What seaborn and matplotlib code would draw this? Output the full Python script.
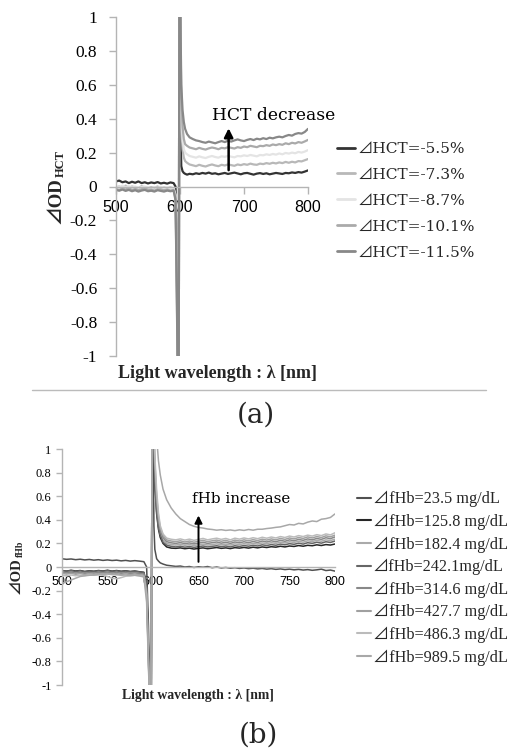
import matplotlib
matplotlib.use("Agg")
import matplotlib.pyplot as plt
from matplotlib.lines import Line2D
import pandas as pd
import seaborn as sns

# ---------------- data ----------------
WL = [500, 505, 510, 515, 520, 525, 530, 535, 540, 545, 550, 555, 560, 565, 570, 575, 580, 585, 590,
      593, 595, 597, 598, 599, 600, 601, 602, 604, 606, 608, 611, 615,
      620, 625, 630, 635, 640, 645, 650, 655, 660, 665, 670, 675, 680, 685, 690, 695, 700,
      705, 710, 715, 720, 725, 730, 735, 740, 745, 750, 755, 760, 765, 770, 775, 780, 785, 790, 795, 800]

LABELS_A = ["⊿HCT=-5.5%", "⊿HCT=-7.3%", "⊿HCT=-8.7%", "⊿HCT=-10.1%", "⊿HCT=-11.5%"]
COLORS_A = ["#333333", "#b8b8b8", "#e4e4e4", "#aaaaaa", "#888888"]

HCT_55 = [0.03, 0.035, 0.025, 0.03, 0.02, 0.028, 0.022, 0.03, 0.02, 0.025, 0.018, 0.024, 0.02, 0.026, 0.018, 0.022, 0.017, 0.024, 0.02,
          0.0, -0.4, -1.3, -1.3, 1.3, 1.3, 0.3, 0.12, 0.09, 0.08, 0.075, 0.07, 0.075,
          0.072, 0.078, 0.074, 0.08, 0.076, 0.082, 0.075, 0.078, 0.072, 0.076, 0.08, 0.074, 0.078, 0.082, 0.077, 0.072, 0.078,
          0.08, 0.075, 0.07, 0.076, 0.079, 0.074, 0.078, 0.072, 0.076, 0.08, 0.077, 0.074, 0.08, 0.078, 0.083, 0.08, 0.085, 0.082, 0.088, 0.095]
HCT_73 = [-0.005, 0.0, -0.01, 0.005, -0.008, 0.0, -0.005, -0.01, 0.002, -0.006, -0.01, -0.004, -0.008, 0.0, -0.012, -0.006, -0.01, -0.005, -0.012,
          -0.05, -0.5, -1.3, -1.3, 1.3, 1.3, 0.6, 0.35, 0.22, 0.17, 0.15, 0.14, 0.13,
          0.125, 0.12, 0.128, 0.122, 0.118, 0.125, 0.13, 0.124, 0.12, 0.128, 0.124, 0.13, 0.126, 0.122, 0.13, 0.126, 0.132,
          0.128, 0.135, 0.13, 0.128, 0.135, 0.132, 0.138, 0.134, 0.14, 0.136, 0.142, 0.138, 0.145, 0.14, 0.146, 0.142, 0.15, 0.148, 0.155, 0.162]
HCT_87 = [0.0, -0.005, 0.005, -0.004, 0.002, -0.006, 0.0, -0.008, -0.003, 0.0, -0.006, -0.01, -0.004, -0.008, -0.002, -0.01, -0.006, -0.01, -0.008,
          -0.05, -0.55, -1.3, -1.3, 1.3, 1.3, 0.7, 0.45, 0.28, 0.22, 0.2, 0.19, 0.18,
          0.175, 0.17, 0.178, 0.172, 0.168, 0.175, 0.18, 0.174, 0.17, 0.178, 0.175, 0.18, 0.176, 0.172, 0.18, 0.178, 0.184,
          0.18, 0.186, 0.182, 0.178, 0.186, 0.184, 0.19, 0.186, 0.192, 0.188, 0.195, 0.19, 0.198, 0.194, 0.2, 0.196, 0.204, 0.2, 0.206, 0.215]
HCT_101 = [-0.015, -0.02, -0.012, -0.018, -0.01, -0.02, -0.015, -0.022, -0.016, -0.012, -0.02, -0.018, -0.024, -0.016, -0.02, -0.022, -0.018, -0.024, -0.02,
           -0.07, -0.6, -1.3, -1.3, 1.3, 1.3, 0.8, 0.55, 0.35, 0.28, 0.25, 0.24, 0.23,
           0.225, 0.22, 0.228, 0.222, 0.218, 0.225, 0.23, 0.226, 0.22, 0.228, 0.225, 0.232, 0.228, 0.224, 0.232, 0.228, 0.236,
           0.232, 0.24, 0.236, 0.232, 0.24, 0.238, 0.244, 0.24, 0.248, 0.244, 0.25, 0.246, 0.255, 0.25, 0.258, 0.254, 0.262, 0.258, 0.266, 0.275]
HCT_115 = [-0.02, -0.025, -0.018, -0.026, -0.02, -0.028, -0.022, -0.03, -0.024, -0.02, -0.028, -0.025, -0.03, -0.022, -0.026, -0.03, -0.024, -0.028, -0.025,
           -0.08, -0.65, -1.3, -1.3, 1.3, 1.3, 0.9, 0.6, 0.45, 0.38, 0.34, 0.31, 0.29,
           0.28, 0.272, 0.268, 0.262, 0.258, 0.265, 0.26, 0.255, 0.262, 0.268, 0.262, 0.27, 0.265, 0.272, 0.278, 0.272, 0.268,
           0.275, 0.28, 0.274, 0.282, 0.278, 0.285, 0.28, 0.288, 0.284, 0.29, 0.294, 0.29, 0.298, 0.304, 0.3, 0.31, 0.315, 0.312, 0.322, 0.34]
SERIES_A = [HCT_55, HCT_73, HCT_87, HCT_101, HCT_115]

LABELS_B = ["⊿fHb=23.5 mg/dL", "⊿fHb=125.8 mg/dL", "⊿fHb=182.4 mg/dL", "⊿fHb=242.1mg/dL",
            "⊿fHb=314.6 mg/dL", "⊿fHb=427.7 mg/dL", "⊿fHb=486.3 mg/dL", "⊿fHb=989.5 mg/dL"]
COLORS_B = ["#505050", "#262626", "#aaaaaa", "#666666", "#888888", "#a0a0a0", "#bbbbbb", "#a8a8a8"]

FHB_235 = [0.07, 0.065, 0.068, 0.062, 0.066, 0.06, 0.064, 0.058, 0.062, 0.056, 0.06, 0.055, 0.058, 0.052, 0.056, 0.05, 0.054, 0.05, 0.045,
           0.0, -0.5, -1.3, -1.3, 1.3, 1.3, 0.35, 0.15, 0.07, 0.05, 0.035, 0.025, 0.015,
           0.01, 0.005, 0.008, 0.0, 0.004, -0.004, 0.002, -0.002, 0.004, -0.006, 0.0, -0.008, -0.004, -0.01, -0.006, -0.012, -0.008,
           -0.014, -0.01, -0.016, -0.012, -0.018, -0.014, -0.02, -0.016, -0.022, -0.018, -0.024, -0.02, -0.026, -0.022, -0.028, -0.024, -0.018, -0.03, -0.026, -0.035]
FHB_1258 = [-0.03, -0.035, -0.028, -0.034, -0.03, -0.038, -0.032, -0.036, -0.03, -0.034, -0.028, -0.035, -0.03, -0.036, -0.032, -0.038, -0.034, -0.04, -0.045,
            -0.15, -0.7, -1.3, -1.3, 1.3, 1.3, 1.0, 0.7, 0.45, 0.32, 0.25, 0.2, 0.17,
            0.16, 0.158, 0.162, 0.155, 0.16, 0.152, 0.158, 0.162, 0.155, 0.16, 0.165, 0.158, 0.162, 0.156, 0.164, 0.16, 0.166,
            0.16, 0.168, 0.162, 0.17, 0.165, 0.172, 0.168, 0.176, 0.17, 0.178, 0.174, 0.182, 0.176, 0.184, 0.18, 0.188, 0.182, 0.19, 0.186, 0.195]
FHB_1824 = [-0.04, -0.045, -0.038, -0.044, -0.04, -0.048, -0.042, -0.046, -0.04, -0.044, -0.038, -0.045, -0.04, -0.046, -0.042, -0.048, -0.044, -0.05, -0.055,
            -0.18, -0.75, -1.3, -1.3, 1.3, 1.3, 1.1, 0.8, 0.5, 0.36, 0.28, 0.23, 0.2,
            0.19, 0.186, 0.192, 0.184, 0.19, 0.182, 0.188, 0.194, 0.186, 0.19, 0.196, 0.188, 0.194, 0.186, 0.196, 0.19, 0.198,
            0.192, 0.2, 0.194, 0.204, 0.198, 0.206, 0.2, 0.21, 0.204, 0.214, 0.208, 0.218, 0.21, 0.222, 0.216, 0.226, 0.218, 0.23, 0.224, 0.236]
FHB_2421 = [-0.03, -0.036, -0.03, -0.038, -0.032, -0.04, -0.034, -0.038, -0.032, -0.036, -0.03, -0.038, -0.032, -0.04, -0.034, -0.04, -0.036, -0.042, -0.048,
            -0.16, -0.72, -1.3, -1.3, 1.3, 1.3, 1.05, 0.75, 0.47, 0.34, 0.27, 0.21, 0.185,
            0.175, 0.17, 0.176, 0.168, 0.174, 0.166, 0.172, 0.178, 0.17, 0.175, 0.18, 0.172, 0.178, 0.17, 0.18, 0.174, 0.182,
            0.176, 0.184, 0.178, 0.188, 0.182, 0.19, 0.184, 0.194, 0.188, 0.198, 0.192, 0.202, 0.194, 0.206, 0.2, 0.21, 0.202, 0.214, 0.208, 0.22]
FHB_3146 = [-0.045, -0.05, -0.044, -0.052, -0.046, -0.054, -0.048, -0.052, -0.046, -0.05, -0.044, -0.052, -0.046, -0.054, -0.048, -0.055, -0.05, -0.056, -0.06,
            -0.2, -0.78, -1.3, -1.3, 1.3, 1.3, 1.15, 0.85, 0.55, 0.4, 0.31, 0.25, 0.215,
            0.205, 0.2, 0.207, 0.198, 0.204, 0.196, 0.202, 0.21, 0.2, 0.206, 0.212, 0.202, 0.21, 0.2, 0.212, 0.205, 0.214,
            0.206, 0.216, 0.208, 0.22, 0.212, 0.222, 0.214, 0.226, 0.218, 0.23, 0.222, 0.234, 0.226, 0.238, 0.23, 0.242, 0.234, 0.248, 0.24, 0.255]
FHB_4277 = [-0.055, -0.06, -0.054, -0.062, -0.056, -0.064, -0.058, -0.062, -0.056, -0.06, -0.054, -0.062, -0.056, -0.064, -0.058, -0.065, -0.06, -0.066, -0.07,
            -0.22, -0.8, -1.3, -1.3, 1.3, 1.3, 1.2, 0.9, 0.6, 0.43, 0.33, 0.27, 0.23,
            0.22, 0.215, 0.222, 0.212, 0.22, 0.21, 0.218, 0.226, 0.215, 0.222, 0.228, 0.218, 0.226, 0.214, 0.228, 0.22, 0.23,
            0.222, 0.232, 0.224, 0.236, 0.228, 0.238, 0.23, 0.242, 0.234, 0.246, 0.238, 0.25, 0.242, 0.255, 0.246, 0.258, 0.25, 0.264, 0.256, 0.27]
FHB_4863 = [-0.07, -0.075, -0.068, -0.074, -0.07, -0.072, -0.066, -0.07, -0.064, -0.07, -0.08, -0.095, -0.1, -0.09, -0.078, -0.075, -0.07, -0.074, -0.08,
            -0.24, -0.82, -1.3, -1.3, 1.3, 1.3, 1.25, 0.95, 0.65, 0.46, 0.35, 0.28, 0.245,
            0.235, 0.23, 0.238, 0.228, 0.236, 0.226, 0.234, 0.242, 0.23, 0.238, 0.244, 0.234, 0.242, 0.23, 0.244, 0.236, 0.246,
            0.238, 0.248, 0.24, 0.252, 0.244, 0.254, 0.246, 0.258, 0.25, 0.262, 0.254, 0.266, 0.258, 0.27, 0.262, 0.274, 0.266, 0.28, 0.272, 0.29]
FHB_9895 = [-0.14, -0.125, -0.11, -0.095, -0.08, -0.075, -0.07, -0.068, -0.065, -0.062, -0.06, -0.064, -0.066, -0.07, -0.068, -0.072, -0.07, -0.075, -0.085,
            -0.3, -0.85, -1.3, -1.3, 1.3, 1.3, 1.3, 1.3, 1.1, 0.9, 0.78, 0.66, 0.57,
            0.5, 0.45, 0.41, 0.385, 0.36, 0.345, 0.335, 0.33, 0.322, 0.318, 0.312, 0.316, 0.31, 0.314, 0.308, 0.315, 0.31,
            0.318, 0.312, 0.32, 0.32, 0.326, 0.33, 0.336, 0.34, 0.35, 0.36, 0.356, 0.37, 0.365, 0.38, 0.39, 0.385, 0.405, 0.41, 0.42, 0.45]
SERIES_B = [FHB_235, FHB_1258, FHB_1824, FHB_2421, FHB_3146, FHB_4277, FHB_4863, FHB_9895]

YTICKS = [-1, -0.8, -0.6, -0.4, -0.2, 0, 0.2, 0.4, 0.6, 0.8, 1]
YTICK_LABELS = ["-1", "-0.8", "-0.6", "-0.4", "-0.2", "0", "0.2", "0.4", "0.6", "0.8", "1"]
XTICKS_A = [500, 600, 700, 800]
XTICKS_B = [500, 550, 600, 650, 700, 750, 800]

# ---------------- figure ----------------
sns.set_theme(style="white")
plt.rcParams["font.family"] = ["Liberation Serif", "Noto Sans CJK JP", "DejaVu Sans"]

W, H = 510, 748
fig = plt.figure(figsize=(W / 100, H / 100), dpi=100, facecolor="white")


def fx(p):
    return p / W


def fy(p):
    return 1 - p / H


def long_df(series, labels):
    rows = []
    for lab, vals in zip(labels, series):
        for w, v in zip(WL, vals):
            rows.append((w, v, lab))
    return pd.DataFrame(rows, columns=["wl", "od", "series"])


GRAY = "#b4b4b4"
SERIF = ["Liberation Serif", "Noto Sans CJK JP", "DejaVu Sans"]
SERIF2 = ["DejaVu Serif", "Noto Sans CJK JP", "DejaVu Sans"]


def style_axes(ax, xticks, xfs, yfs, xpad, ypad, xlen, ylen):
    ax.set_xlim(500, 800)
    ax.set_ylim(-1, 1)
    ax.set_xlabel("")
    ax.set_ylabel("")
    for s in ["top", "right"]:
        ax.spines[s].set_visible(False)
    ax.spines["left"].set_color(GRAY)
    ax.spines["bottom"].set_color(GRAY)
    ax.spines["left"].set_linewidth(1)
    ax.spines["bottom"].set_linewidth(1)
    ax.spines["bottom"].set_position(("data", 0))
    ax.set_xticks(xticks)
    ax.set_xticklabels([str(t) for t in xticks])
    ax.set_yticks(YTICKS)
    ax.set_yticklabels(YTICK_LABELS)
    ax.tick_params(axis="x", bottom=True, direction="out", length=xlen, width=1, color=GRAY, pad=xpad,
                   labelsize=xfs, labelcolor="black")
    ax.tick_params(axis="y", left=True, direction="out", length=ylen, width=1, color=GRAY, pad=ypad,
                   labelsize=yfs, labelcolor="black")
    ax.set_facecolor("white")
    ax.grid(False)


def tick_fonts(ax):
    for t in ax.xaxis.get_major_ticks():
        t.label1.set_fontfamily("Liberation Sans")
    for t in ax.yaxis.get_major_ticks():
        t.label1.set_fontfamily("Liberation Serif")


# ---- panel (a)
axA = fig.add_axes([fx(116), fy(356), fx(308) - fx(116), (356 - 17) / H])
sns.lineplot(data=long_df(SERIES_A, LABELS_A), x="wl", y="od", hue="series", hue_order=LABELS_A,
             palette=COLORS_A, estimator=None, sort=False, legend=False, linewidth=1.6, ax=axA)
style_axes(axA, XTICKS_A, 11.5, 12.5, 5, 8.5, 5, 5)

axA.annotate("", xy=(676, 0.36), xytext=(676, 0.08),
             arrowprops=dict(arrowstyle="-|>", color="black", lw=1.8, mutation_scale=13))
axA.text(650, 0.418, "HCT decrease", family=SERIF2, fontsize=12.3, ha="left", va="center", color="black")

hA = [Line2D([], [], color=c, lw=2) for c in COLORS_A]
fig.legend(hA, LABELS_A, loc="upper left", bbox_to_anchor=(fx(337), fy(142)), bbox_transform=fig.transFigure,
           frameon=False, borderpad=0, borderaxespad=0, handlelength=1.17, handletextpad=0.13,
           labelspacing=0.77, prop={"family": SERIF2, "size": 11.1})

fig.text(fx(118), fy(373), "Light wavelength : λ [nm]", family=SERIF, fontweight="bold", fontsize=13,
         ha="left", va="center")
fig.add_artist(Line2D([fx(32), fx(486)], [fy(390), fy(390)], color="#bbbbbb", lw=1))
fig.text(fx(256), fy(415), "(a)", family=SERIF2, fontsize=20, ha="center", va="center")

# ---- panel (b)
axB = fig.add_axes([fx(62), fy(685), fx(335) - fx(62), (685 - 449) / H])
sns.lineplot(data=long_df(SERIES_B, LABELS_B), x="wl", y="od", hue="series", hue_order=LABELS_B,
             palette=COLORS_B, estimator=None, sort=False, legend=False, linewidth=1.1, ax=axB)
style_axes(axB, XTICKS_B, 9, 9, 6.2, 3.6, 0, 4)

axB.annotate("", xy=(650, 0.46), xytext=(650, 0.02),
             arrowprops=dict(arrowstyle="-|>", color="black", lw=1.4, mutation_scale=11))
axB.text(643, 0.576, "fHb increase", family=SERIF2, fontsize=10.9, ha="left", va="center", color="black")

hB = [Line2D([], [], color=c, lw=1.5) for c in COLORS_B]
fig.legend(hB, LABELS_B, loc="upper left", bbox_to_anchor=(fx(357), fy(491)), bbox_transform=fig.transFigure,
           frameon=False, borderpad=0, borderaxespad=0, handlelength=0.86, handletextpad=0.12,
           labelspacing=0.38, prop={"family": SERIF, "size": 11.7})

fig.text(fx(122), fy(695), "Light wavelength : λ [nm]", family=SERIF, fontweight="bold", fontsize=9.9,
         ha="left", va="center")
fig.text(fx(258), fy(735), "(b)", family=SERIF2, fontsize=20, ha="center", va="center")


# ---- y labels with subscript
def ylabel(xc, ybot, main, sub, size, subsize, dx):
    t = fig.text(fx(xc), fy(ybot), main, rotation=90, ha="center", va="bottom", family=SERIF,
                 fontweight="bold", fontsize=size)
    fig.canvas.draw()
    bb = t.get_window_extent()
    fig.text((bb.x1 + dx) / W, bb.y1 / H, sub, rotation=90, ha="right", va="bottom", family=SERIF,
             fontweight="bold", fontsize=subsize)


ylabel(56, 224, "⊿OD", "HCT", 13.5, 9, 2)
ylabel(16, 594, "⊿OD", "fHb", 10.5, 7, 2)

fig.canvas.draw()
tick_fonts(axA)
tick_fonts(axB)

fig.savefig("out.png", dpi=100, facecolor="white")
